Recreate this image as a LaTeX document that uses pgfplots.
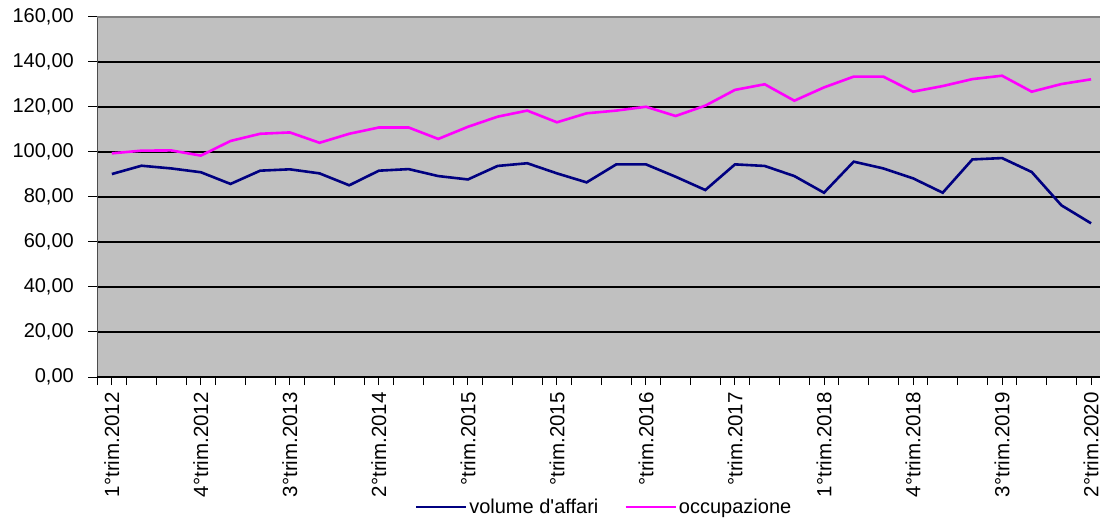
\documentclass[border=0pt]{standalone}
\usepackage{graphicx}
\usepackage{fontspec}
\setmainfont{Liberation Sans}
\newfontfamily\lsans{Liberation Sans}
\usepackage{pgfplots}
\pgfplotsset{compat=1.18}
\definecolor{bgray}{RGB}{192,192,192}
\definecolor{navyc}{RGB}{0,0,128}
\definecolor{magc}{RGB}{255,0,255}
\begin{document}
\begin{tikzpicture}
\useasboundingbox (0,0) rectangle (1102pt,519pt);
\begin{axis}[
  at={(97pt,142pt)}, anchor=south west,
  scale only axis, width=1003pt, height=360pt,
  xmin=-0.5, xmax=33.3, ymin=0, ymax=160,
  axis background/.style={fill=bgray},
  axis line style={draw=none},
  tick pos=left,
  font=\lsans\fontsize{20}{24}\selectfont,
  ytick={0,20,...,160},
  ymajorgrids, major grid style={black, line width=1.6pt},
  tick align=outside,
  major tick length=9pt,
  tick style={black, line width=1pt},
  yticklabel style={inner sep=0pt},
  yticklabel shift=14pt,
  /pgf/number format/.cd, fixed, fixed zerofill, precision=2, use comma, assume math mode=true,
  /pgfplots/.cd,
  xtick={-0.5,0.5,...,32.5},
  xticklabels={},
  x tick style={black, line width=1pt, /pgfplots/major tick length=8pt},
  extra x ticks={0,3,...,33},
  extra x tick labels={1°trim.2012,4°trim.2012,3°trim.2013,2°trim.2014,°trim.2015,°trim.2015,°trim.2016,°trim.2017,1°trim.2018,4°trim.2018,3°trim.2019,2°trim.2020},
  extra x tick style={major tick length=0pt, grid=none},
  xticklabel style={font=\lsans\fontsize{20.5}{24}\selectfont, inner sep=0pt, rotate=90, anchor=east},
  xticklabel shift=15pt,
  legend columns=2,
  legend style={at={(0.5055,-0.361)}, anchor=center, draw=none, fill=none,
    font=\lsans\fontsize{20}{24}\selectfont,
    /tikz/every even column/.append style={column sep=24pt}},
  legend image code/.code={\draw[#1] (0pt,0pt) -- (50pt,0pt);},
]
\addplot[navyc, line width=2.6pt, mark=none] coordinates {
(0,90.2)(1,93.9)(2,92.7)(3,91.0)(4,85.8)(5,91.7)(6,92.3)(7,90.5)(8,85.2)(9,91.7)
(10,92.4)(11,89.3)(12,87.8)(13,93.8)(14,95.0)(15,90.5)(16,86.5)(17,94.5)(18,94.5)(19,89.0)
(20,83.1)(21,94.5)(22,93.8)(23,89.3)(24,81.9)(25,95.7)(26,92.7)(27,88.3)(28,81.9)(29,96.7)
(30,97.3)(31,91.1)(32,76.3)(33,68.3)};
\addlegendentry{volume d'affari}
\addplot[magc, line width=2.6pt, mark=none] coordinates {
(0,99.4)(1,100.6)(2,100.7)(3,98.4)(4,104.9)(5,108.1)(6,108.7)(7,104.1)(8,108.1)(9,110.9)
(10,110.9)(11,105.8)(12,111.2)(13,115.7)(14,118.4)(15,113.2)(16,117.2)(17,118.4)(18,120.1)(19,116.0)
(20,120.6)(21,127.6)(22,130.1)(23,122.8)(24,128.7)(25,133.5)(26,133.5)(27,126.8)(28,129.3)(29,132.4)
(30,133.9)(31,126.8)(32,130.2)(33,132.3)};
\addlegendentry{occupazione}
\draw[gray!60!black, line width=2pt] (rel axis cs:0,0) -- (rel axis cs:0,1);
\draw[gray, line width=2pt] (rel axis cs:0,1) -- (rel axis cs:1,1);
\draw[black, line width=1.5pt] (rel axis cs:0,0) -- (rel axis cs:1,0);
\end{axis}
\end{tikzpicture}
\end{document}
